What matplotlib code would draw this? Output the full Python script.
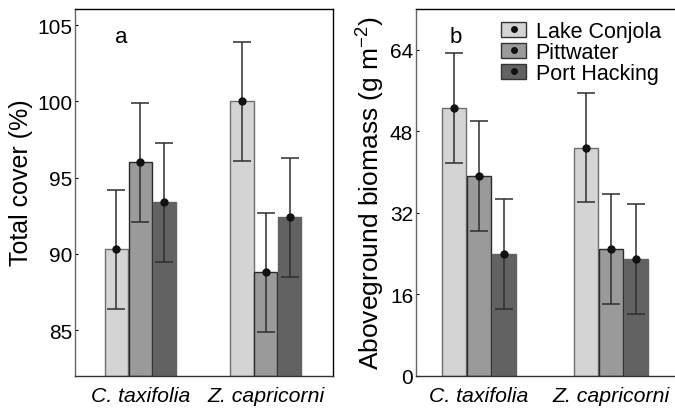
import numpy as np
import matplotlib.pyplot as plt
from matplotlib.patches import Patch
from matplotlib.lines import Line2D

plt.rcParams['font.family'] = ['Liberation Sans', 'DejaVu Sans']
plt.rcParams['mathtext.fontset'] = 'custom'
plt.rcParams['mathtext.rm'] = 'Liberation Sans'

species = ['C. taxifolia', 'Z. capricorni']
sites = ['Lake Conjola', 'Pittwater', 'Port Hacking']

# total cover (%), mean and error per site, one value per species
cover_mean = {'Lake Conjola': [90.3, 100.0],
              'Pittwater': [96.0, 88.8],
              'Port Hacking': [93.4, 92.4]}
cover_err = {'Lake Conjola': [3.9, 3.9],
             'Pittwater': [3.9, 3.9],
             'Port Hacking': [3.9, 3.9]}

# aboveground biomass (g m-2)
bio_mean = {'Lake Conjola': [52.6, 44.8],
            'Pittwater': [39.2, 25.0],
            'Port Hacking': [24.0, 23.0]}
bio_err = {'Lake Conjola': [10.8, 10.7],
           'Pittwater': [10.8, 10.8],
           'Port Hacking': [10.8, 10.8]}

face = {'Lake Conjola': '#d4d4d4', 'Pittwater': '#9a9a9a', 'Port Hacking': '#626262'}
edge = {'Lake Conjola': '#6e6e6e', 'Pittwater': '#2a2a2a', 'Port Hacking': '#626262'}
offs = [-0.19, 0.0, 0.19]
width = 0.185

fig = plt.figure(figsize=(6.75, 4.1), dpi=100)
ax1 = fig.add_axes([75 / 675, 33 / 410, 258 / 675, 367 / 410])
ax2 = fig.add_axes([416 / 675, 33 / 410, 258 / 675, 367 / 410])


def draw(ax, means, errs, bottom):
    x = np.arange(len(species))
    for s, o in zip(sites, offs):
        m = np.array(means[s])
        ax.bar(x + o, m - bottom, width, bottom=bottom, color=face[s],
               edgecolor=edge[s], linewidth=1.0, zorder=2)
        ax.errorbar(x + o, m, yerr=errs[s], fmt='o', color='#111111', ms=5,
                    ecolor='#2e2e2e', elinewidth=1.1, capsize=6.5, capthick=1.1,
                    zorder=3)
    ax.set_xticks(x)
    ax.set_xticklabels(species, style='italic', fontsize=15.3)
    ax.tick_params(axis='both', direction='in', length=2.5, width=0.8,
                   pad=2)
    ax.tick_params(axis='y', labelsize=15)
    ax.tick_params(axis='x', pad=7)
    ax.spines['left'].set_color('#666666')
    ax.spines['bottom'].set_color('#333333')
    for sp in ax.spines.values():
        sp.set_linewidth(1.0)


draw(ax1, cover_mean, cover_err, 82.0)
ax1.set_ylim(82.0, 106.05)
ax1.set_xlim(-0.52, 1.535)
ax1.set_yticks([85, 90, 95, 100, 105])
ax1.set_ylabel('Total cover (%)', fontsize=18, labelpad=3, y=0.53)
ax1.text(0.18, 0.955, 'a', transform=ax1.transAxes, fontsize=16, va='top', ha='center')

draw(ax2, bio_mean, bio_err, 0.0)
ax2.set_ylim(0, 72)
ax2.set_xlim(-0.48, 1.48)
ax2.set_yticks([0, 16, 32, 48, 64])
ax2.set_ylabel('Aboveground biomass (g m$^{-2}$)', fontsize=19, labelpad=3)
ax2.text(0.155, 0.955, 'b', transform=ax2.transAxes, fontsize=16, va='top', ha='center')
ax2.spines['right'].set_visible(False)

handles = [(Patch(facecolor=face[s], edgecolor='#333333', linewidth=1.0),
            Line2D([], [], marker='o', color='#111111', ls='none', ms=4))
           for s in sites]
ax2.legend(handles, sites, loc='upper left', bbox_to_anchor=(0.33, 0.968),
           frameon=False, fontsize=15.5, borderpad=0, borderaxespad=0,
           handlelength=1.15, handleheight=0.7, handletextpad=0.45,
           labelspacing=0.0)

fig.savefig('out.png', dpi=100)
